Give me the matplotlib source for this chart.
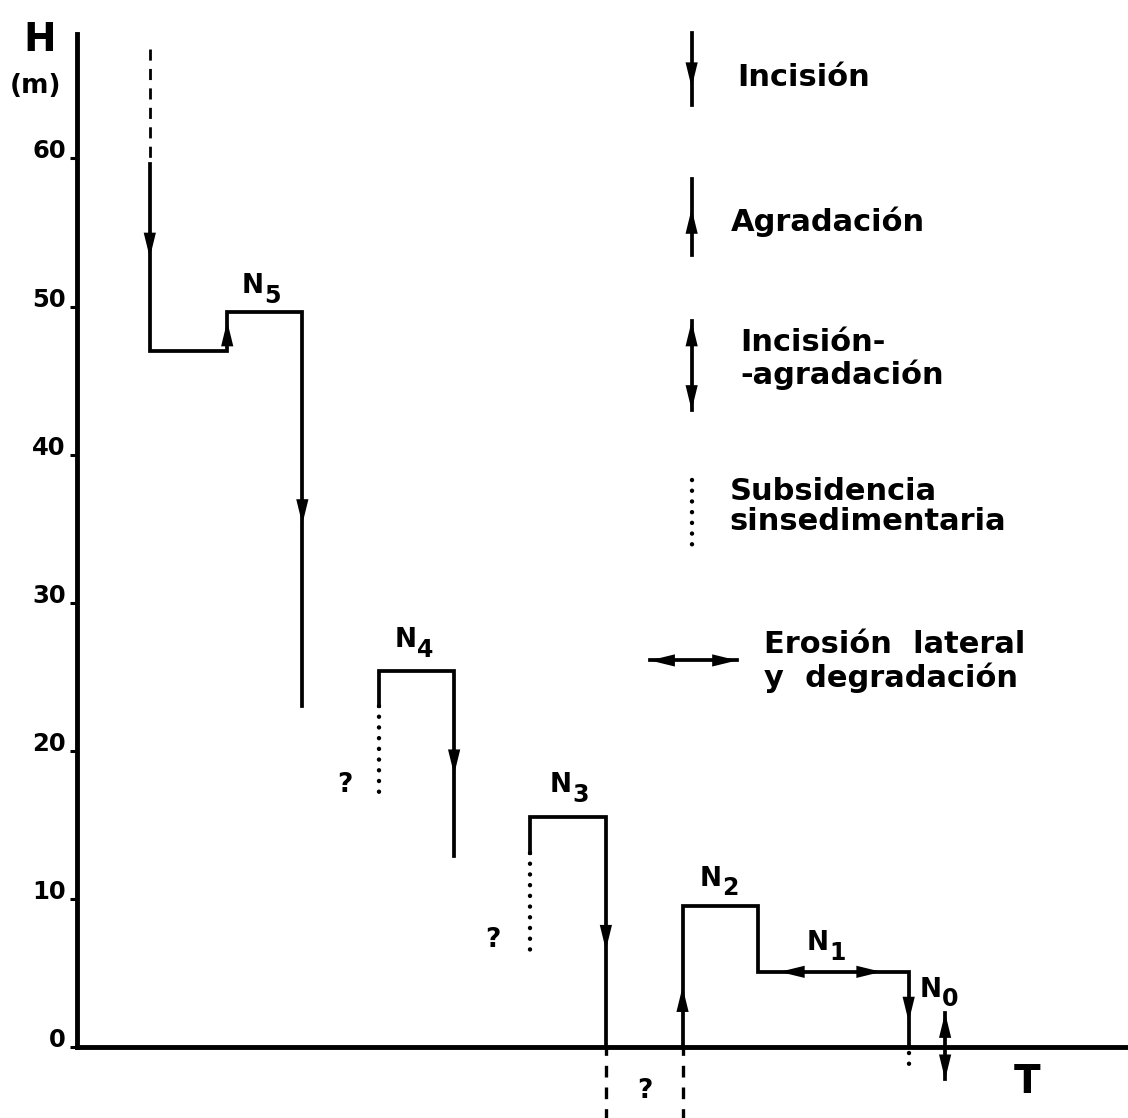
import matplotlib
matplotlib.use('Agg')
import matplotlib.pyplot as plt

plt.rcParams['font.family'] = ['DejaVu Sans']
plt.rcParams['font.weight'] = 'bold'

# --- data (T in arbitrary time units, H in metres) ---
# solid profile pieces
n5_t = [0.96, 0.96, 1.98, 1.98, 2.97, 2.97]
n5_h = [59.6, 47.0, 47.0, 49.6, 49.6, 23.0]
n4_t = [3.98, 3.98, 4.97, 4.97]
n4_h = [23.0, 25.4, 25.4, 12.9]
n3_t = [5.97, 5.97, 6.97, 6.97]
n3_h = [13.1, 15.5, 15.5, 0.0]
n2_t = [7.98, 7.98, 8.98, 8.98, 10.96, 10.96]
n2_h = [0.0, 9.5, 9.5, 5.07, 5.07, 0.0]

# dotted = subsidencia sinsedimentaria (t, h_top, h_bottom)
subsid = [(3.98, 23.0, 16.9), (5.97, 13.1, 6.2), (10.96, -0.4, -1.5)]
# dashed below the axis / above N5
dashed_low = [(6.97, 0.0, -4.8), (7.98, 0.0, -4.8)]
dashed_top = (0.96, 67.4, 59.7)

# arrowheads (t, h at tip, direction)
heads = [(0.96, 53.3, 'down'), (1.98, 49.0, 'up'), (2.97, 35.3, 'down'),
         (4.97, 18.4, 'down'), (6.97, 6.55, 'down'), (7.98, 4.05, 'up'),
         (9.26, 5.07, 'left'), (10.60, 5.07, 'right'), (10.96, 1.7, 'down')]
n0_t, n0_lo, n0_hi = 11.44, -2.2, 2.3

level_names = ['5', '4', '3', '2', '1', '0']
level_pos = [(2.17, 50.9), (4.19, 27.0), (6.23, 17.2), (8.21, 10.9),
             (9.62, 6.55), (11.11, 3.4)]
question_pos = [(3.53, 17.7), (5.48, 7.2), (7.48, -3.0)]

yticks = [0, 10, 20, 30, 40, 50, 60]

LW = 2.7
fig = plt.figure(figsize=(11.28, 11.18), dpi=100)
ax = fig.add_axes([0, 0, 1, 1])
ax.set_xlim(-1.014, 13.85)
ax.set_ylim(-4.8, 70.7)


def head(t, h, d):
    off = {'down': (0, 2.0), 'up': (0, -2.0), 'left': (0.4, 0), 'right': (-0.4, 0)}[d]
    ax.annotate('', xy=(t, h), xytext=(t + off[0], h + off[1]),
                arrowprops=dict(arrowstyle='-|>,head_length=0.9,head_width=0.22',
                                mutation_scale=20, lw=0, fc='black', ec='black',
                                shrinkA=0, shrinkB=0))


for tt, hh in [(n5_t, n5_h), (n4_t, n4_h), (n3_t, n3_h), (n2_t, n2_h)]:
    ax.plot(tt, hh, color='black', lw=LW, solid_joinstyle='miter')

for t, h0, h1 in subsid:
    ax.plot([t, t], [h0, h1], color='black', lw=3.2, linestyle=(0, (0.01, 2.4)),
            dash_capstyle='round')
for t, h0, h1 in dashed_low:
    ax.plot([t, t], [h0, h1], color='black', lw=2.4, linestyle=(1, (3.5, 3)))
ax.plot([dashed_top[0]] * 2, dashed_top[1:], color='black', lw=2.0,
        linestyle=(0, (4, 3)))

for t, h, d in heads:
    head(t, h, d)

# N0 double arrow
ax.plot([n0_t, n0_t], [n0_lo, n0_hi], color='black', lw=LW)
head(n0_t, n0_hi, 'up')
head(n0_t, n0_lo, 'down')

# labels
for name, (t, h) in zip(level_names, level_pos):
    ax.text(t, h, 'N', fontsize=19, ha='left', va='baseline')
    ax.annotate(name, (t, h), xytext=(16, -7), textcoords='offset points',
                fontsize=17, ha='left', va='baseline')
for t, h in question_pos:
    ax.text(t, h, '?', fontsize=19, ha='center', va='center')

ax.text(-0.49, 68.0, 'H', fontsize=28, ha='center', va='center')
ax.text(-0.55, 64.9, '(m)', fontsize=19, ha='center', va='center')
ax.text(12.52, -2.4, 'T', fontsize=28, ha='center', va='center')

# legend
lx = 8.10
ax.plot([lx, lx], [68.5, 63.6], color='black', lw=LW)
head(lx, 64.8, 'down')
ax.text(8.70, 65.5, 'Incisión', fontsize=22, ha='left', va='center')

ax.plot([lx, lx], [58.6, 53.5], color='black', lw=LW)
head(lx, 56.6, 'up')
ax.text(8.62, 55.7, 'Agradación', fontsize=22, ha='left', va='center')

ax.plot([lx, lx], [49.0, 43.0], color='black', lw=LW)
head(lx, 49.0, 'up')
head(lx, 43.0, 'down')
ax.text(8.74, 47.6, 'Incisión-', fontsize=22, ha='left', va='center')
ax.text(8.74, 45.4, '-agradación', fontsize=22, ha='left', va='center')

ax.plot([lx, lx], [38.3, 33.7], color='black', lw=3.2, linestyle=(0, (0.01, 2.4)),
        dash_capstyle='round')
ax.text(8.60, 37.5, 'Subsidencia', fontsize=22, ha='left', va='center')
ax.text(8.60, 35.5, 'sinsedimentaria', fontsize=22, ha='left', va='center')

ax.plot([7.55, 8.70], [26.1, 26.1], color='black', lw=LW)
head(7.55, 26.1, 'left')
head(8.70, 26.1, 'right')
ax.text(9.06, 27.2, 'Erosión  lateral', fontsize=22, ha='left', va='center')
ax.text(9.06, 24.9, 'y  degradación', fontsize=22, ha='left', va='center')

# axes
for s in ['top', 'right']:
    ax.spines[s].set_visible(False)
ax.spines['left'].set_position(('data', 0))
ax.spines['bottom'].set_position(('data', 0))
ax.spines['left'].set_bounds(0, 68.4)
ax.spines['bottom'].set_bounds(0, 13.85)
ax.spines['left'].set_linewidth(3.5)
ax.spines['bottom'].set_linewidth(3.5)
ax.set_xticks([])
ax.set_yticks(yticks)
ax.set_yticklabels([str(v) for v in yticks], fontsize=17.5, fontweight='bold')
for lab in ax.get_yticklabels():
    lab.set_va('baseline')
ax.tick_params(axis='y', direction='out', length=5, width=2.2, pad=3)

fig.savefig('out.png', dpi=100)
